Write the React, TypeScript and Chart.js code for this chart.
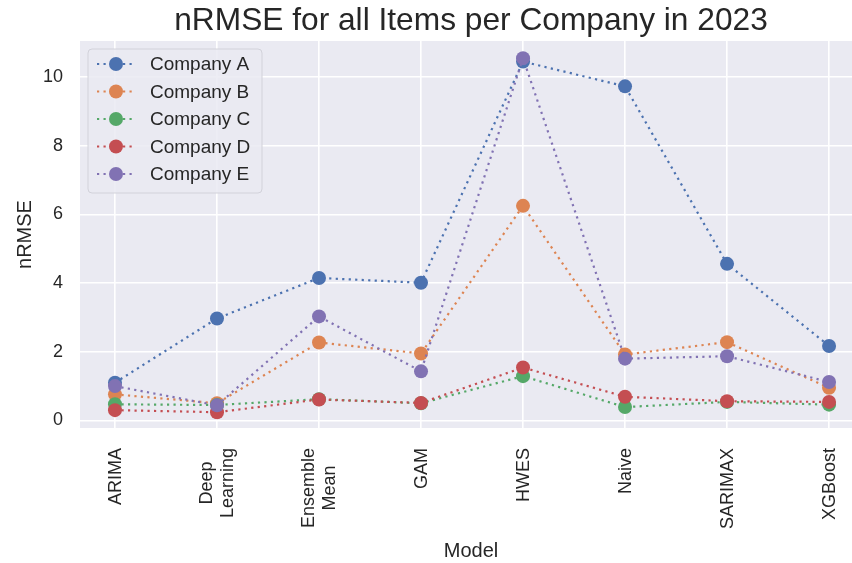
import React, { useEffect, useRef } from 'react';
import { Chart, registerables } from 'chart.js';

Chart.register(...registerables);

const models = ['ARIMA', 'Deep Learning', 'Ensemble Mean', 'GAM', 'HWES', 'Naive', 'SARIMAX', 'XGBoost'];
const xTickLabels: string[][] = [
  ['ARIMA'],
  ['Deep', 'Learning'],
  ['Ensemble', 'Mean'],
  ['GAM'],
  ['HWES'],
  ['Naive'],
  ['SARIMAX'],
  ['XGBoost'],
];
const companies = ['Company A', 'Company B', 'Company C', 'Company D', 'Company E'];
const companyA = [1.1, 2.97, 4.15, 4.01, 10.45, 9.73, 4.56, 2.17];
const companyB = [0.76, 0.5, 2.27, 1.95, 6.25, 1.92, 2.28, 0.95];
const companyC = [0.47, 0.45, 0.62, 0.5, 1.29, 0.39, 0.54, 0.46];
const companyD = [0.3, 0.24, 0.61, 0.51, 1.54, 0.69, 0.56, 0.54];
const companyE = [1.0, 0.44, 3.03, 1.43, 10.55, 1.8, 1.87, 1.12];
const yTicks = [0, 2, 4, 6, 8, 10];
const colors = ['#4C72B0', '#DD8452', '#55A868', '#C44E52', '#8172B3'];

const FONT = "'Liberation Sans', Arial, sans-serif";
const TEXT = '#262626';
const DASH = [2.2, 4.3];

const bgPlugin = {
  id: 'bgPlugin',
  beforeDraw(chart: any) {
    const { ctx, chartArea } = chart;
    ctx.save();
    ctx.fillStyle = '#ffffff';
    ctx.fillRect(0, 0, chart.width, chart.height);
    ctx.fillStyle = '#EAEAF2';
    ctx.fillRect(chartArea.left, chartArea.top, chartArea.right - chartArea.left, chartArea.bottom - chartArea.top);
    ctx.restore();
  },
};

const overlayPlugin = {
  id: 'overlayPlugin',
  afterDraw(chart: any) {
    const { ctx } = chart;
    ctx.save();
    // Title
    ctx.fillStyle = TEXT;
    ctx.font = `31.7px ${FONT}`;
    ctx.textAlign = 'center';
    ctx.textBaseline = 'alphabetic';
    ctx.fillText('nRMSE for all Items per Company in 2023', 471, 30);
    // X axis title
    ctx.font = `20px ${FONT}`;
    ctx.fillText('Model', 471, 557);

    // X tick labels (rotated 90°, lines centred within each label block)
    const xs = chart.scales.x;
    ctx.font = `18px ${FONT}`;
    ctx.textAlign = 'center';
    ctx.textBaseline = 'middle';
    const lh = 21;
    xTickLabels.forEach((lines, i) => {
      const px = xs.getPixelForValue(i);
      const maxW = Math.max(...lines.map((l) => ctx.measureText(l).width));
      lines.forEach((line, j) => {
        const cx = px - ((lines.length - 1) * lh) / 2 + j * lh;
        ctx.save();
        ctx.translate(cx, 448 + maxW / 2);
        ctx.rotate(-Math.PI / 2);
        ctx.fillText(line, 0, 1);
        ctx.restore();
      });
    });

    // Legend
    const bx = 88, by = 49, bw = 174, bh = 144, r = 4;
    ctx.beginPath();
    ctx.moveTo(bx + r, by);
    ctx.lineTo(bx + bw - r, by);
    ctx.quadraticCurveTo(bx + bw, by, bx + bw, by + r);
    ctx.lineTo(bx + bw, by + bh - r);
    ctx.quadraticCurveTo(bx + bw, by + bh, bx + bw - r, by + bh);
    ctx.lineTo(bx + r, by + bh);
    ctx.quadraticCurveTo(bx, by + bh, bx, by + bh - r);
    ctx.lineTo(bx, by + r);
    ctx.quadraticCurveTo(bx, by, bx + r, by);
    ctx.closePath();
    ctx.fillStyle = 'rgba(234,234,242,0.85)';
    ctx.fill();
    ctx.strokeStyle = '#D2D2DA';
    ctx.lineWidth = 1;
    ctx.stroke();

    const datasets = chart.data.datasets;
    ctx.font = `19px ${FONT}`;
    ctx.textAlign = 'left';
    ctx.textBaseline = 'middle';
    datasets.forEach((ds: any, k: number) => {
      const y = 64 + k * 27.5;
      ctx.strokeStyle = ds.borderColor;
      ctx.lineWidth = 2.2;
      ctx.setLineDash(DASH);
      ctx.beginPath();
      ctx.moveTo(97, y);
      ctx.lineTo(136, y);
      ctx.stroke();
      ctx.setLineDash([]);
      ctx.fillStyle = ds.borderColor;
      ctx.beginPath();
      ctx.arc(116, y, 7, 0, Math.PI * 2);
      ctx.fill();
      ctx.fillStyle = TEXT;
      ctx.fillText(ds.label, 150, y + 1);
    });
    ctx.restore();
  },
};

export default function App() {
  const ref = useRef<HTMLCanvasElement>(null);
  useEffect(() => {
    document.body.style.margin = '0';
    const series = [companyA, companyB, companyC, companyD, companyE];
    const chart = new Chart(ref.current as HTMLCanvasElement, {
      type: 'line',
      data: {
        datasets: series.map((s, k) => ({
          label: companies[k],
          data: s.map((v, i) => ({ x: i, y: v })),
          borderColor: colors[k],
          backgroundColor: colors[k],
          pointBackgroundColor: colors[k],
          pointBorderColor: colors[k],
          pointBorderWidth: 0,
          pointRadius: 7,
          pointHoverRadius: 7,
          borderDash: DASH,
          borderWidth: 2.2,
          borderCapStyle: 'butt',
          fill: false,
          tension: 0,
          clip: false,
          order: series.length - k,
        })),
      },
      options: {
        responsive: false,
        animation: false,
        devicePixelRatio: 1,
        layout: { autoPadding: false, padding: { top: 41, left: 0, right: 0, bottom: 0 } },
        plugins: {
          legend: { display: false },
          title: { display: false },
          tooltip: { enabled: false },
        },
        scales: {
          x: {
            type: 'linear',
            min: -0.343,
            max: 7.225,
            afterBuildTicks: (s: any) => {
              s.ticks = models.map((_, i) => ({ value: i }));
            },
            afterFit: (s: any) => {
              s.height = 135;
              s.paddingLeft = 0;
              s.paddingRight = 0;
            },
            grid: { color: '#ffffff', lineWidth: 1.6, drawTicks: false },
            border: { display: false },
            ticks: {
              display: false,
              autoSkip: false,
            },
          },
          y: {
            type: 'linear',
            min: -0.22,
            max: 11.05,
            afterBuildTicks: (s: any) => {
              s.ticks = yTicks.map((v) => ({ value: v }));
            },
            afterFit: (s: any) => {
              s.width = 80;
              s.paddingTop = 0;
              s.paddingBottom = 0;
            },
            grid: { color: '#ffffff', lineWidth: 1.6, drawTicks: false },
            border: { display: false },
            ticks: {
              padding: 17,
              color: TEXT,
              font: { family: FONT, size: 18 },
              callback: (v: any) => String(v),
            },
            title: {
              display: true,
              text: 'nRMSE',
              color: TEXT,
              font: { family: FONT, size: 20, lineHeight: 1.2 },
              padding: { top: 13, bottom: 0 },
            },
          },
        },
      } as any,
      plugins: [bgPlugin, overlayPlugin],
    });
    return () => chart.destroy();
  }, []);
  return <canvas ref={ref} width={852} height={563} style={{ display: 'block' }} />;
}
